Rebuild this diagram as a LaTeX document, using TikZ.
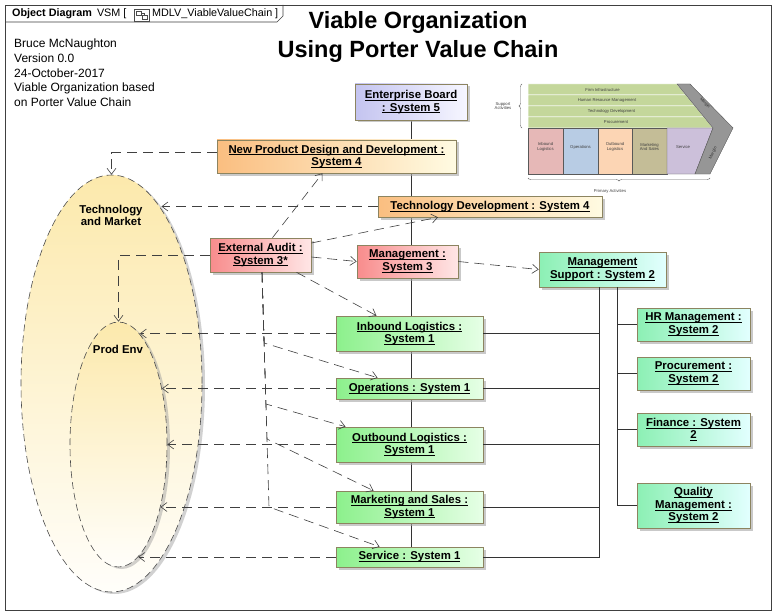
\documentclass[tikz,border=0pt]{standalone}
\usepackage{fontspec}
\setmainfont{Liberation Sans}
\usetikzlibrary{positioning,shapes.geometric,shadows,arrows.meta,decorations.pathreplacing}
\pgfdeclarelayer{background}
\pgfsetlayers{background,main}
\newcommand{\undl}[1]{\setbox0\hbox{#1}\rlap{\rule[-1.8pt]{\wd0}{0.7pt}}\box0}

\definecolor{boxline}{RGB}{140,132,96}
\definecolor{sysfiveL}{RGB}{196,196,240}
\definecolor{sysfiveR}{RGB}{246,246,255}
\definecolor{sysfourL}{RGB}{250,190,128}
\definecolor{sysfourR}{RGB}{255,251,226}
\definecolor{systhreeL}{RGB}{248,140,140}
\definecolor{systhreeR}{RGB}{255,230,230}
\definecolor{systwoL}{RGB}{140,240,180}
\definecolor{systwoR}{RGB}{226,255,255}
\definecolor{sysoneL}{RGB}{140,240,140}
\definecolor{sysoneR}{RGB}{230,255,230}
\definecolor{envtop}{RGB}{252,233,172}
\definecolor{envbot}{RGB}{255,254,250}
\definecolor{vcgreen}{RGB}{196,215,155}
\definecolor{vcpink}{RGB}{230,184,183}
\definecolor{vcblue}{RGB}{184,204,228}
\definecolor{vcpeach}{RGB}{252,213,180}
\definecolor{vckhaki}{RGB}{196,189,151}
\definecolor{vclilac}{RGB}{204,192,218}
\definecolor{vcgray}{RGB}{150,150,150}

\begin{document}
\begin{tikzpicture}[x=1pt,y=-1pt,
  box/.style={draw=boxline,line width=0.6pt,align=center,inner sep=1pt,
    font=\fontsize{11.4}{12.5}\selectfont\bfseries,
    drop shadow={shadow xshift=2.5pt,shadow yshift=-2.5pt,fill=black!35,opacity=0.6}},
  sysfive/.style={box,left color=sysfiveL,right color=sysfiveR},
  sysfour/.style={box,left color=sysfourL,right color=sysfourR},
  systhree/.style={box,left color=systhreeL,right color=systhreeR},
  systwo/.style={box,left color=systwoL,right color=systwoR,minimum width=113pt},
  sysone/.style={box,left color=sysoneL,right color=sysoneR,minimum width=147pt},
  env/.style={ellipse,draw=black!70,line width=0.6pt,dash pattern=on 7pt off 4pt,
    top color=envtop,bottom color=envbot,
    drop shadow={shadow xshift=3pt,shadow yshift=-2pt,fill=black!40,opacity=0.45}},
  envlabel/.style={font=\fontsize{11.4}{12}\selectfont\bfseries,align=center,inner sep=0},
  dep/.style={draw=black!75,line width=0.6pt,dash pattern=on 10pt off 6pt,
    -{Straight Barb[length=6pt,width=9pt]}},
  link/.style={draw=black!80,line width=0.6pt},
  vctext/.style={font=\fontsize{4.2}{4.8}\selectfont,align=center,inner sep=0,text=black!75},
  vcbox/.style={draw=black!65,line width=0.4pt}]

\useasboundingbox (0,0) rectangle (776,615);
\begin{pgfonlayer}{background}
\fill[white] (0,0) rectangle (776,615);
\end{pgfonlayer}

\draw[black!75,line width=0.6pt] (5,5) rectangle (771,610);
\draw[black!75,line width=0.6pt] (5,22) -- (277,22) -- (283,16) -- (283,5);
\node[anchor=base west,inner sep=0,font=\fontsize{10.8}{12}\selectfont] (tabtitle) at (12,17)
  {\textbf{Object Diagram}\hspace{5pt}VSM [};
\draw[black!70,line width=0.5pt] (134,9) rectangle (149,21);
\draw[black!70,line width=0.5pt] (136,11) rectangle (141,15);
\draw[black!70,line width=0.5pt] (142,15) rectangle (147,19);
\draw[black!70,line width=0.5pt] (141,13) -- (144,13) -- (144,15);
\node[anchor=base west,inner sep=0,font=\fontsize{10.8}{12}\selectfont] (tabname) at (152,17)
  {MDLV\_ViableValueChain ]};

\node[anchor=north,inner sep=0,align=center,font=\fontsize{23.5}{29}\selectfont\bfseries]
  (title) at (418,11) {Viable Organization\\Using Porter Value Chain};
\node[anchor=north west,inner sep=0,align=left,font=\fontsize{12}{14.7}\selectfont]
  (author) at (14,39) {Bruce McNaughton\\Version 0.0\\24-October-2017\\Viable Organization based\\on Porter Value Chain};

\foreach \ya/\yb/\xa/\xb/\txt in {84/95/677/686/Firm Infrastructure,95/106/686/695/Human Resource Management,106/117/695/704/Technology Development,117/128/704/713/Procurement}{
  \filldraw[fill=vcgreen,draw=white,line width=0.5pt] (528,\ya) -- (\xa,\ya) -- (\xb,\yb) -- (528,\yb) -- cycle;
  \node[vctext] at ({(528+\xa)/2},{(\ya+\yb)/2}) {\txt};
}
\foreach \xa/\xb/\col/\txt in {528/563/vcpink/Inbound\\Logistics,563/598/vcblue/Operations,598/632/vcpeach/Outbound\\Logistics,632/667/vckhaki/Marketing\\And Sales}{
  \filldraw[vcbox,fill=\col] (\xa,128) rectangle (\xb,174);
  \node[vctext] at ({(\xa+\xb)/2},147) {\txt};
}
\filldraw[vcbox,fill=vclilac] (667,128) -- (713,128) -- (695,174) -- (667,174) -- cycle;
\node[vctext] at (683,147) {Service};
\filldraw[vcbox,fill=vcgray] (677,84) -- (690,84) -- (733,128) -- (710,174) -- (695,174) -- (713,128) -- cycle;
\node[vctext,text=black!80,rotate=-47] at (705,103) {Margin};
\node[vctext,text=black!80,rotate=63] at (713,153) {Margin};
\draw[black!60,line width=0.4pt,decorate,decoration={brace,amplitude=3pt}] (522,128) -- (522,84);
\node[vctext] at (503,106) {Support\\Activities};
\draw[black!60,line width=0.4pt,decorate,decoration={brace,amplitude=3pt}] (710,178) -- (528,178);
\node[vctext] at (610,191) {Primary Activities};

\node[env,minimum width=181pt,minimum height=417pt] (tm) at (111.5,383.5) {};
\node[env,minimum width=97pt,minimum height=245pt] (pe) at (118.5,444.5) {};
\node[envlabel] (tmlabel) at (111,215) {Technology\\and Market};
\node[envlabel] (pelabel) at (118,349) {Prod Env};

\node[sysfive,minimum width=112pt,minimum height=36pt] (eb) at (411,102) {\undl{Enterprise Board}\\\undl{: System 5}};
\node[sysfour,minimum width=239pt,minimum height=33pt] (npd) at (336.5,156.5) {\undl{New Product Design and Development :}\\\undl{System 4}};
\node[sysfour,minimum width=224pt,minimum height=21pt] (td) at (490,206.5) {\undl{Technology Development : System 4}};
\node[systhree,minimum width=101pt,minimum height=34pt] (ea) at (260.5,255) {\undl{External Audit :}\\\undl{System 3*}};
\node[systhree,minimum width=101pt,minimum height=33pt] (mg) at (407.5,261.5) {\undl{Management :}\\\undl{System 3}};
\node[systwo,minimum width=127pt,minimum height=35pt] (ms) at (602.5,269.5) {\undl{Management}\\\undl{Support : System 2}};

\node[sysone,minimum height=35pt] (inb) at (409.5,333.5) {\undl{Inbound Logistics :}\\\undl{System 1}};
\node[sysone,minimum height=21pt] (ops) at (409.5,388.5) {\undl{Operations : System 1}};
\node[sysone,minimum height=35pt] (outb) at (409.5,444.5) {\undl{Outbound Logistics :}\\\undl{System 1}};
\node[sysone,minimum height=32pt] (mkt) at (409.5,507) {\undl{Marketing and Sales :}\\\undl{System 1}};
\node[sysone,minimum height=20pt] (svc) at (409.5,557) {\undl{Service : System 1}};

\node[systwo,minimum height=33pt] (hr) at (693.5,324.5) {\undl{HR Management :}\\\undl{System 2}};
\node[systwo,minimum height=33pt] (proc) at (693.5,373.5) {\undl{Procurement :}\\\undl{System 2}};
\node[systwo,minimum height=33pt] (fin) at (693.5,429.5) {\undl{Finance : System}\\\undl{2}};
\node[systwo,minimum height=45pt] (qm) at (693.5,505.5) {\undl{Quality}\\\undl{Management :}\\\undl{System 2}};

\begin{pgfonlayer}{background}
\draw[link] (eb.south) -- (eb.south |- svc.north);
\end{pgfonlayer}

\coordinate (busL) at (599,0);
\coordinate (busR) at (617,0);
\draw[link] (ms.south -| busL) -- (busL |- svc.east) -- (svc.east);
\foreach \n in {inb,ops,outb,mkt}
  \draw[link] (\n.east) -- (\n.east -| busL);
\draw[link] (ms.south -| busR) -- (busR |- qm.west) -- (qm.west);
\foreach \n in {hr,proc,fin}
  \draw[link] (\n.west) -- (\n.west -| busR);

\draw[dep] ([yshift=4pt]npd.west) -| (tm.north);
\draw[dep] (td.west) -- (td.west -| tm.74.9);
\draw[dep] (ea.west) -| (pe.north);
\draw[dep] ([xshift=12pt]ea.north) -- ([xshift=-14pt]npd.south);
\draw[dep] ([yshift=12pt]ea.east) -- ([xshift=-52pt]td.south);
\draw[dep] ([yshift=-2pt]ea.east) -- (mg.west);
\draw[dep] (mg.east) -- (ms.west);
\draw[dep] ([xshift=36pt]ea.south) -- ([xshift=-33pt]inb.north);
\foreach \n/\bx/\by/\dx in {ops/264.1/343/-32,outb/265.9/404/-64,mkt/267/439/-36,svc/269/507/-30}
  \draw[dep] ([xshift=1.5pt]ea.south) -- (\bx,\by) -- ([xshift=\dx pt]\n.north);
\foreach \n/\a in {inb/79.5,ops/52.4,outb/0,mkt/-56.3,svc/-80.3}
  \draw[dep] (\n.west) -- (\n.west -| pe.\a);
\end{tikzpicture}
\end{document}
